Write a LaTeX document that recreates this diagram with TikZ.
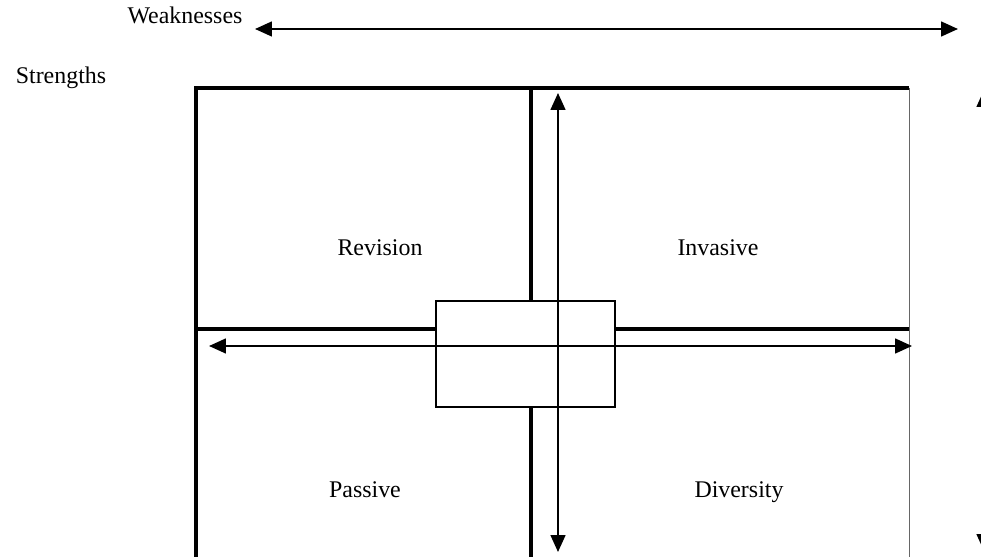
\documentclass[tikz,border=0pt]{standalone}
\usepackage{fontspec}
\setmainfont{Liberation Serif}
\usetikzlibrary{arrows.meta}

\begin{document}
\begin{tikzpicture}[x=0.025cm,y=-0.025cm,
		wall/.style={line width=2.2pt},
		axis/.style={line width=1.4pt,{Triangle[length=12pt,width=10.5pt]}-{Triangle[length=12pt,width=10.5pt]}},
		word/.style={font=\fontsize{17}{20}\selectfont,inner sep=0pt,anchor=base}]
		\useasboundingbox (0,0) rectangle (981,557);
		\node[word] (weak) at (185,24) {Weaknesses};
		\node[word] (strong) at (61,84) {Strengths};
		\draw[wall] (196,560) -- (196,88) -- (909,88);
		\draw[line width=0.7pt,black!60] (909,88) -- (909,560);
		\node (hub) [draw,line width=0.9pt,minimum width=4.475cm,minimum height=2.65cm,inner sep=0pt] at (525.5,354) {};
		\draw[wall] (531,88) -- (531,88 |- hub.north);
		\draw[wall] (531,560) -- (531,560 |- hub.south);
		\draw[wall] (196,329) -- (196,329 -| hub.west);
		\draw[wall] (909,329) -- (909,329 -| hub.east);
		\coordinate (weakL) at (255,29);
		\coordinate (weakR) at (958,29);
		\coordinate (horL) at (209,346);
		\coordinate (horR) at (912,346);
		\coordinate (verT) at (558,93);
		\coordinate (verB) at (558,552);
		\coordinate (strT) at (984,90);
		\coordinate (strB) at (984,551);
		\draw[axis] (weakL) -- (weakR);
		\draw[axis] (horL) -- (horR);
		\draw[axis] (verT) -- (verB);
		\draw[axis] (strT) -- (strB);
		\node[word] (rev) at (380,256) {Revision};
		\node[word] (inv) at (718,256) {Invasive};
		\node[word] (pas) at (365,497) {Passive};
		\node[word] (div) at (739,497) {Diversity};
		\end{tikzpicture}
\end{document}
